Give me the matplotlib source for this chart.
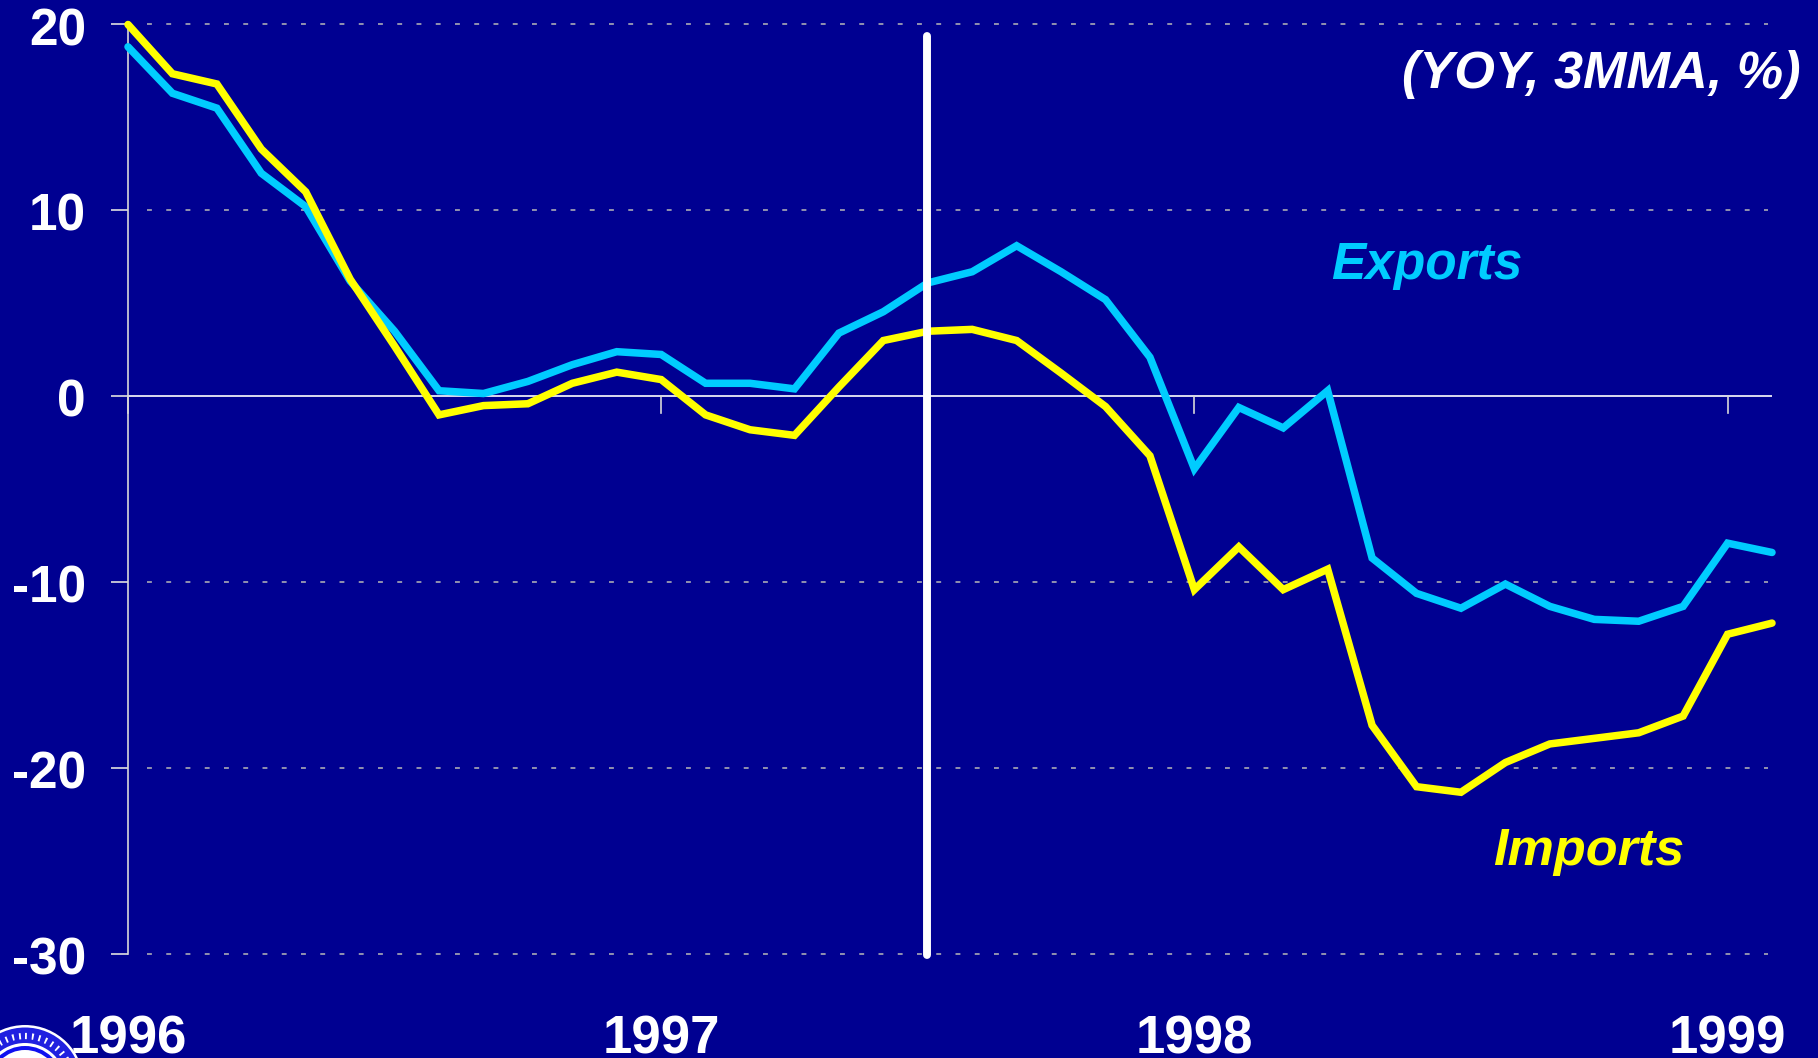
import matplotlib
matplotlib.use("Agg")
import matplotlib.pyplot as plt
from matplotlib.patches import Circle

years = ["1996", "1997", "1998", "1999"]
year_pos = [0, 12, 24, 36]
y_ticks = [20, 10, 0, -10, -20, -30]

exports = [18.8, 16.3, 15.5, 12.0, 10.2, 6.2, 3.5, 0.3, 0.15, 0.8, 1.7, 2.4, 2.25,
           0.7, 0.7, 0.4, 3.4, 4.55, 6.1, 6.7, 8.1, 6.7, 5.2, 2.1, -3.9, -0.6, -1.7,
           0.3, -8.7, -10.6, -11.4, -10.1, -11.3, -12.0, -12.1, -11.3, -7.9, -8.4]
imports = [20.0, 17.35, 16.8, 13.3, 11.0, 6.3, 2.7, -1.0, -0.5, -0.4, 0.7, 1.3, 0.9,
           -1.0, -1.8, -2.1, 0.5, 3.0, 3.5, 3.6, 3.0, 1.25, -0.55, -3.2, -10.4, -8.1,
           -10.4, -9.3, -17.7, -21.0, -21.3, -19.7, -18.7, -18.4, -18.1, -17.2, -12.8, -12.2]
marker_x = [17.98, 17.98]
marker_y = [19.4, -30.05]

W, H = 1818, 1058
BG = "#000091"
CYAN = "#00CCFF"
YELLOW = "#FFFF00"
plt.rcParams["font.family"] = ["Liberation Sans", "DejaVu Sans"]

fig = plt.figure(figsize=(W / 100, H / 100), dpi=100, facecolor=BG)
ax = fig.add_axes([128 / W, 1 - 954 / H, (1772 - 128) / W, (954 - 24.5) / H], facecolor=BG)
months = list(range(len(exports)))
ax.set_xlim(0, 37)
ax.set_ylim(-30, 20)

# dotted grid, does not touch the axis
for v in y_ticks:
    if v != 0:
        ax.plot([0.43, 36.9], [v, v], color="#B8B8B8", lw=1.1, dashes=(3.2, 9.4), zorder=1,
                clip_on=False)

ax.axhline(0, color="white", lw=1.2, zorder=2)
for s in ["top", "right", "bottom"]:
    ax.spines[s].set_visible(False)
ax.spines["left"].set_color("#D8D8D8")
ax.spines["left"].set_linewidth(1.2)
ax.spines["left"].set_zorder(2)
ax.set_yticks(y_ticks)
ax.set_yticklabels([])
ax.tick_params(axis="y", length=12.5, width=1.2, color="#E0E0E0")
ax.set_xticks([])

for v in y_ticks:
    ax.annotate(str(v), (0, v), xytext=(-42, -7), textcoords="offset pixels", ha="right",
                va="center", fontsize=37, fontweight="bold", color="white", annotation_clip=False)

# year ticks hang below the zero line
for p, lab in zip(year_pos, years):
    ax.plot([p, p], [0, -0.9], color="#D8D8D8", lw=1.2, zorder=2, clip_on=False)
    ax.annotate(lab, (p, -30), xytext=(0, -99), textcoords="offset pixels", ha="center",
                va="baseline", fontsize=38, fontweight="bold", color="white", annotation_clip=False)

ax.plot(months, exports, color=CYAN, lw=5.4, solid_joinstyle="miter", solid_capstyle="round",
        zorder=3, clip_on=False)
ax.plot(months, imports, color=YELLOW, lw=5.4, solid_joinstyle="miter", solid_capstyle="round",
        zorder=4, clip_on=False)
ax.plot(marker_x, marker_y, color="white", lw=5.7, solid_capstyle="round", zorder=5, clip_on=False)

ax.text(37.65, 17.3, "(YOY, 3MMA, %)", color="white", fontsize=37.6, fontweight="bold",
        fontstyle="italic", ha="right", va="center")
ax.text(29.23, 7.03, "Exports", color=CYAN, fontsize=37, fontweight="bold",
        fontstyle="italic", ha="center", va="center")
ax.text(32.87, -24.5, "Imports", color=YELLOW, fontsize=37.5, fontweight="bold",
        fontstyle="italic", ha="center", va="center")

# seal, mostly cropped off the bottom-left corner
seal_ax = fig.add_axes([0, 0, 1, 1], facecolor="none")
seal_ax.set_xlim(0, W)
seal_ax.set_ylim(H, 0)
seal_ax.axis("off")
seal_ax.add_patch(Circle((25, 1084), 59, fc="white", ec="none"))
seal_ax.add_patch(Circle((25, 1084), 56.5, fc="#2020E0", ec="none"))
seal_ax.add_patch(Circle((25, 1084), 48, fc="none", ec="white", lw=4.5, ls=(0, (0.3, 0.8))))
seal_ax.add_patch(Circle((25, 1084), 41, fc="white", ec="none"))
seal_ax.add_patch(Circle((25, 1084), 38, fc="#1010F0", ec="none"))
seal_ax.add_patch(Circle((25, 1084), 34, fc="white", ec="none"))

fig.savefig("out.png", dpi=100, facecolor=BG)
